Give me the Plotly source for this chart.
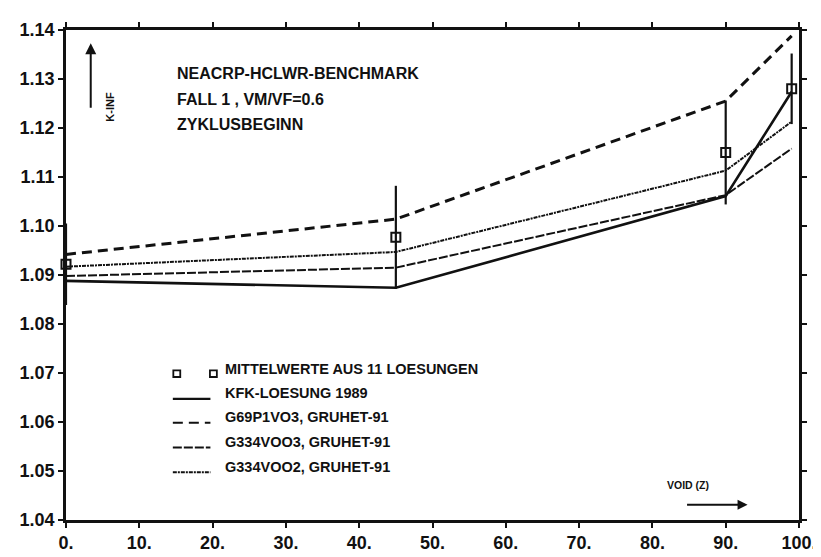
import plotly.graph_objects as go

# ---- data ----
void_pct = [0, 45, 90, 99]
mean_kinf = [1.0922, 1.0977, 1.1150, 1.1280]
mean_err = [0.0083, 0.0105, 0.0106, 0.0072]
kfk_1989 = [1.0888, 1.0874, 1.1061, 1.1274]
g69p1v03 = [1.0942, 1.1014, 1.1255, 1.1388]
g334v003 = [1.0898, 1.0915, 1.1063, 1.1158]
g334v002 = [1.0917, 1.0947, 1.1113, 1.1213]

x_ticks = [0, 10, 20, 30, 40, 50, 60, 70, 80, 90, 100]
x_tick_labels = ["0.", "10.", "20.", "30.", "40.", "50.", "60.", "70.", "80.", "90.", "100."]
y_ticks = [1.04, 1.05, 1.06, 1.07, 1.08, 1.09, 1.10, 1.11, 1.12, 1.13, 1.14]
y_tick_labels = ["1.04", "1.05", "1.06", "1.07", "1.08", "1.09", "1.10", "1.11", "1.12", "1.13", "1.14"]

legend_labels = ["MITTELWERTE AUS 11 LOESUNGEN", "KFK-LOESUNG 1989",
                 "G69P1VO3, GRUHET-91", "G334VOO3, GRUHET-91", "G334VOO2, GRUHET-91"]
title_lines = ["NEACRP-HCLWR-BENCHMARK", "FALL 1 , VM/VF=0.6", "ZYKLUSBEGINN"]
y_axis_label = "K-INF"
x_axis_label = "VOID (Z)"

# ---- styling ----
W, H = 821, 557
ML, MR, MT, MB = 57, 23, 17, 26
PW, PH = W - ML - MR, H - MT - MB
FONT = "Liberation Sans Narrow, Liberation Sans, Arial, sans-serif"
BLACK = "#111111"


def px_x(px):
    return (px - ML) / PW


def px_y(py):
    return (H - MB - py) / PH


styles = {
    "kfk": dict(width=2.6, dash="solid"),
    "g69": dict(width=3, dash="10px,6px"),
    "v003": dict(width=2, dash="9px,2px"),
    "v002": dict(width=2, dash="4px,1px,2px,1px"),
}

fig = go.Figure()
fig.add_trace(go.Scatter(x=void_pct, y=g69p1v03, mode="lines",
                         line=dict(color=BLACK, **styles["g69"]), showlegend=False))
fig.add_trace(go.Scatter(x=void_pct, y=g334v002, mode="lines",
                         line=dict(color=BLACK, **styles["v002"]), showlegend=False))
fig.add_trace(go.Scatter(x=void_pct, y=g334v003, mode="lines",
                         line=dict(color=BLACK, **styles["v003"]), showlegend=False))
fig.add_trace(go.Scatter(x=void_pct, y=kfk_1989, mode="lines",
                         line=dict(color=BLACK, **styles["kfk"]), showlegend=False))
fig.add_trace(go.Scatter(x=void_pct, y=mean_kinf, mode="markers", cliponaxis=False,
                         marker=dict(symbol="square-open", size=9, color=BLACK,
                                     line=dict(width=2, color=BLACK)),
                         error_y=dict(type="data", array=mean_err, width=0,
                                      thickness=2.2, color=BLACK),
                         showlegend=False))

annotations = []
shapes = []

# title block
for i, t in enumerate(title_lines):
    annotations.append(dict(x=px_x(167), y=px_y(63 + 26.5 * i), xref="paper", yref="paper",
                            text=t, showarrow=False, xanchor="left", yanchor="middle",
                            font=dict(family=FONT, size=16, color=BLACK, weight="bold")))

# manual legend
legend_rows_y = [373, 398, 423, 449, 475]
legend_keys = [None, "kfk", "g69", "v003", "v002"]
for label, ry, key in zip(legend_labels, legend_rows_y, legend_keys):
    annotations.append(dict(x=px_x(216), y=px_y(ry), xref="paper", yref="paper",
                            text=label, showarrow=False, xanchor="left", yanchor="middle",
                            font=dict(family=FONT, size=14.5, color=BLACK, weight="bold")))
    if key is None:
        for cx in (169, 206):
            shapes.append(dict(type="rect", xref="paper", yref="paper",
                               x0=px_x(cx - 3.5), x1=px_x(cx + 3.5),
                               y0=px_y(ry + 1), y1=px_y(ry + 8),
                               line=dict(color=BLACK, width=1.8)))
    else:
        st = styles[key]
        shapes.append(dict(type="line", xref="paper", yref="paper",
                           x0=px_x(165), x1=px_x(203), y0=px_y(ry + 6), y1=px_y(ry + 6),
                           line=dict(color=BLACK, width=min(st["width"], 2.2), dash=st["dash"])))

# K-INF arrow and label
annotations.append(dict(x=px_x(82), y=px_y(31), xref="paper", yref="paper",
                        ax=0, ay=66, text="", showarrow=True, arrowhead=2,
                        arrowsize=1.1, arrowwidth=2, arrowcolor=BLACK))
annotations.append(dict(x=px_x(93), y=px_y(80), xref="paper", yref="paper",
                        text=y_axis_label, textangle=-90, showarrow=False,
                        font=dict(family=FONT, size=11, color=BLACK, weight="bold")))

# VOID (Z) arrow and label
annotations.append(dict(x=px_x(709), y=px_y(503), xref="paper", yref="paper",
                        text=x_axis_label, showarrow=False,
                        font=dict(family=FONT, size=10.5, color=BLACK, weight="bold")))
annotations.append(dict(x=px_x(746), y=px_y(515), xref="paper", yref="paper",
                        ax=-62, ay=0, text="", showarrow=True, arrowhead=2,
                        arrowsize=1, arrowwidth=2, arrowcolor=BLACK))

axis_common = dict(showgrid=False, zeroline=False, showline=True, linecolor=BLACK,
                   linewidth=2.5, mirror="ticks", ticks="outside", ticklen=5,
                   tickwidth=2, tickcolor=BLACK,
                   tickfont=dict(family=FONT, size=18, color=BLACK, weight="bold"))

fig.update_layout(
    width=W, height=H, autosize=False,
    margin=dict(l=ML, r=MR, t=MT, b=MB),
    paper_bgcolor="white", plot_bgcolor="white",
    xaxis=dict(range=[0, 100], tickvals=x_ticks, ticktext=x_tick_labels, **axis_common),
    yaxis=dict(range=[1.04, 1.14], tickvals=y_ticks, ticktext=y_tick_labels, **axis_common),
    annotations=annotations, shapes=shapes,
)

fig.write_html("out.html")
